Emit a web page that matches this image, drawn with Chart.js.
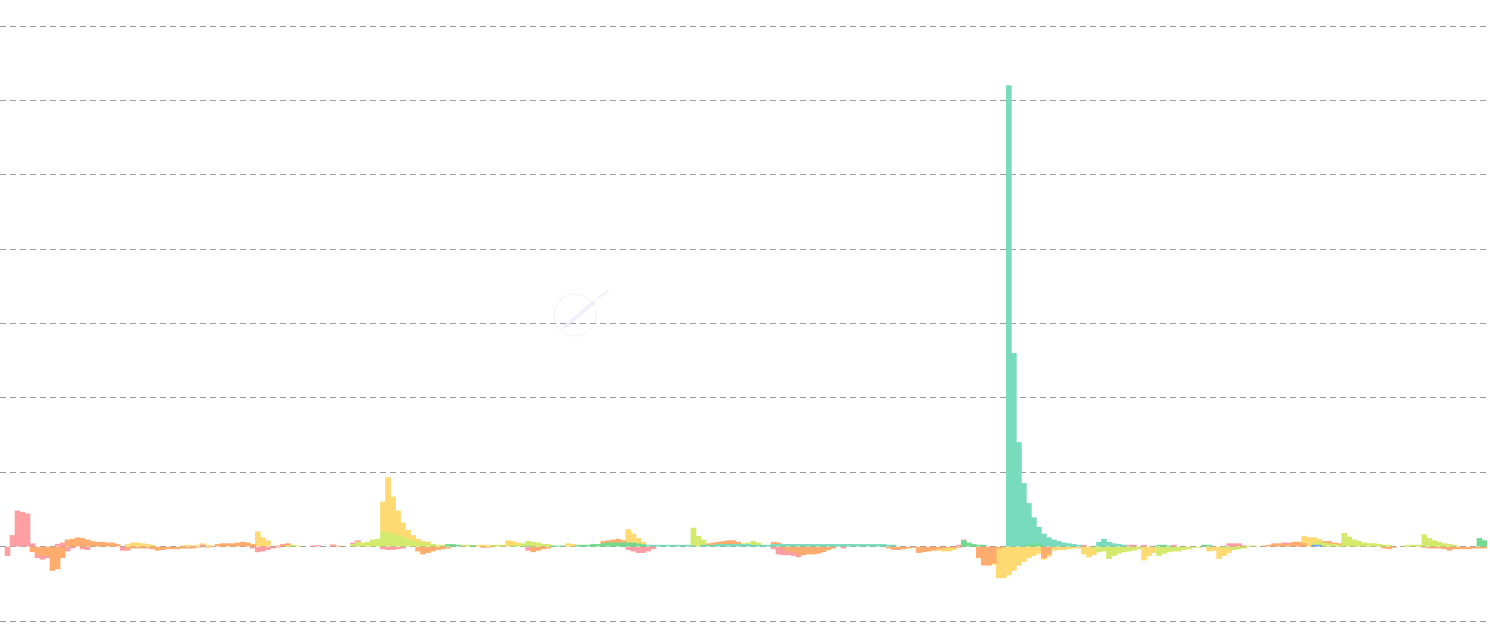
<!DOCTYPE html>
<html>
<head>
<meta charset="utf-8">
<script src="https://cdn.jsdelivr.net/npm/chart.js@4.4.1/dist/chart.umd.min.js"></script>
<style>
  html, body { margin: 0; padding: 0; background: #fff; }
  #wrap { width: 1490px; height: 633px; position: relative; }
</style>
</head>
<body>
<div id="wrap"><canvas id="chart"></canvas></div>
<script>
// one value per time slot, 297 slots
const pink = [
  0, -0.12, 0.15, 0.48, 0.46, 0.44, 0.04, -0.04, -0.05, -0.03,
  0, 0.03, 0.05, -0.06, -0.02, 0, -0.03, -0.04, 0, 0,
  0, 0, 0, 0, -0.05, -0.02, 0, 0, 0, 0,
  0, 0, 0, 0, 0, 0, 0, 0, 0, 0,
  0.02, 0, 0, 0, 0, 0, 0, 0, 0, 0,
  -0.02, -0.07, -0.06, -0.04, -0.02, -0.01, 0.01, 0, 0, 0,
  0, 0, 0.01, 0.015, 0, 0, 0.015, 0, 0, 0,
  0.02, 0.02, 0, 0, 0, 0, -0.03, -0.04, -0.04, -0.03,
  -0.02, 0, 0, 0, 0, 0, 0, 0, 0, 0,
  0, 0, 0, 0, 0, 0, 0, 0, 0, 0,
  0, 0, 0, 0, 0, -0.05, 0, 0, 0, 0,
  0, 0, 0, 0, 0, 0, 0, 0, 0, 0,
  0, 0, 0, 0, 0, -0.04, -0.06, -0.08, -0.08, -0.06,
  -0.03, 0, 0, 0, 0, 0, 0, 0, 0, 0,
  0, 0, 0, 0, 0, 0, 0, 0, 0, 0,
  0, 0, 0, 0, -0.03, -0.1, -0.08, -0.05, -0.05, -0.04,
  0, 0, 0, 0, 0, 0, 0, 0, -0.02, 0,
  0, 0, 0, 0, 0, 0, 0, 0, 0, 0,
  0, 0, 0, 0, 0, 0, 0, 0, 0, 0,
  0, 0.02, 0.01, 0, 0, 0, 0, 0, 0, 0,
  0, 0, 0, 0, 0, 0, 0, 0, 0, 0,
  0, 0, 0, 0, 0, 0, 0.02, 0, 0, 0,
  0, 0, 0, 0, 0, 0.02, 0.02, 0, 0.02, 0,
  0, 0, 0, 0, 0.02, 0, 0, 0, 0, 0,
  0, 0, 0, 0, 0, 0.04, 0.04, 0.03, 0, 0,
  0, 0, 0, 0, 0.01, 0, 0.02, 0.02, 0, 0,
  0, 0, 0, 0, 0, 0, 0, 0, 0, 0,
  0, 0, 0, 0, 0, 0, 0, 0, 0, 0,
  0, 0, 0, 0, 0, 0, 0, 0, 0, 0,
  0, 0, 0, 0, 0, 0, 0
];

const orange = [
  0, 0, 0, 0, 0, 0, -0.07, -0.11, -0.12, -0.12,
  -0.32, -0.3, -0.15, 0.09, 0.1, 0.12, 0.11, 0.09, 0.07, 0.06,
  0.06, 0.05, 0.05, 0.03, 0, -0.03, -0.02, -0.02, -0.02, -0.02,
  -0.03, -0.05, -0.04, -0.03, -0.03, -0.03, -0.02, -0.02, -0.02, -0.01,
  0, -0.01, 0, 0.03, 0.04, 0.04, 0.04, 0.05, 0.06, 0.05,
  0.03, 0, 0, 0, 0, 0.01, 0.02, 0.03, 0, 0,
  0, 0, 0, 0, 0, 0, 0.01, 0.01, 0, 0,
  0, 0, 0, 0, 0, 0, 0, 0, 0, 0,
  0, 0, 0, -0.06, -0.1, -0.08, -0.06, -0.04, -0.03, -0.02,
  0, 0, 0, 0, 0, 0, -0.01, -0.01, 0, 0,
  0, 0, 0, 0, 0, 0, -0.07, -0.05, -0.03, -0.02,
  0, 0, 0, 0, 0, 0, 0, 0, 0, 0,
  0.03, 0.03, 0.04, 0.05, 0.03, 0, 0, 0, 0, 0,
  0, 0, 0, 0, 0, 0, 0, 0, 0, 0,
  0, 0.02, 0.03, 0.03, 0.04, 0.05, 0.05, 0.03, 0, 0,
  0, 0, 0, 0, 0.03, 0.02, -0.03, -0.06, -0.07, -0.1,
  -0.11, -0.1, -0.1, -0.09, -0.07, -0.04, -0.02, 0, 0, 0,
  0, 0, 0, 0, 0, 0, 0, -0.02, -0.04, -0.04,
  -0.03, -0.02, -0.01, -0.08, -0.07, -0.06, -0.05, -0.03, -0.02, -0.01,
  -0.01, -0.01, 0, 0, 0, -0.15, -0.25, -0.25, -0.22, -0.02,
  0, 0, 0, 0, 0, 0, 0, 0, -0.15, -0.1,
  0, 0, 0, 0, 0, 0, 0, 0, 0, 0,
  0, 0, 0, 0, 0, 0, 0, 0, 0, 0,
  0, 0, 0, 0, 0, 0, 0, 0, 0, 0,
  0, 0, 0, 0, 0, 0, 0, 0.01, 0.01, 0,
  0, 0, 0.01, 0.02, 0.03, 0.04, 0.03, 0.03, 0.06, 0.06,
  0.04, 0, 0, 0, 0.02, 0.03, 0.02, 0.02, 0, 0,
  0, 0, 0, 0, 0, 0, -0.02, -0.03, -0.01, 0,
  0, 0, 0, 0, -0.01, -0.02, -0.02, -0.02, -0.03, -0.05,
  -0.03, -0.03, -0.03, -0.03, -0.02, -0.02, -0.02
];

const yellow = [
  0, 0, 0, 0, 0, 0, 0, 0, 0, 0,
  0, 0, 0, 0, 0, 0, 0, 0, 0, 0,
  0, 0, 0, 0, 0, 0.03, 0.05, 0.05, 0.04, 0.03,
  0.02, 0, 0, 0, 0, 0, 0.01, 0.02, 0.01, 0.02,
  0.02, 0.02, 0.01, 0, 0, 0, 0, 0, 0, 0,
  0, 0.2, 0.12, 0.08, 0, 0, 0, 0, 0, 0,
  0, 0, 0, 0, 0, 0, 0, 0, 0, 0,
  0, 0, 0, 0, 0, 0, 0.4, 0.74, 0.5, 0.33,
  0.19, 0.12, 0.07, 0.04, 0.02, 0.02, 0, 0, 0, 0,
  0, 0, 0, 0, 0, 0.02, 0.02, 0.02, 0, 0,
  0, 0.08, 0.05, 0.03, 0, 0, 0, 0, 0, 0,
  0, 0, 0, 0.04, 0.03, 0, 0, 0, 0, 0,
  0, 0, 0, 0, 0, 0.18, 0.12, 0.07, 0.03, 0,
  0, 0, 0, 0, 0, 0, 0, 0, 0, 0,
  0, 0, 0, 0, 0, 0, 0, 0, 0, 0,
  0, 0, 0, 0, 0, 0, 0, 0, 0, 0,
  0, 0, 0, 0, 0, 0, 0, 0, 0, 0,
  0, 0, 0, 0, 0, 0, 0, 0, 0, 0,
  0, 0, 0, 0, 0, 0, 0, -0.02, -0.04, -0.05,
  -0.03, 0, 0, 0, 0, 0, 0, 0, -0.02, -0.4,
  -0.42, -0.38, -0.32, -0.25, -0.2, -0.15, -0.12, -0.09, -0.02, -0.03,
  -0.05, -0.04, -0.04, -0.03, -0.02, -0.02, -0.1, -0.14, -0.08, 0,
  0, 0, 0, 0, 0, 0, 0, 0, -0.18, -0.12,
  -0.08, 0, 0, 0, 0, 0, 0, 0, 0, 0,
  0, -0.06, -0.05, -0.16, -0.1, -0.06, 0, 0, 0, 0,
  0, 0, 0, 0, 0, 0, 0, 0, 0, 0,
  0.1, 0.12, 0.08, 0.03, 0, 0, 0, 0, 0, 0,
  0, 0, 0, 0, 0, 0, 0, 0, 0, 0,
  0, 0, 0, 0, 0, 0, 0, 0, 0, 0,
  0, 0, 0, 0, 0, 0, 0
];

const lime = [
  0, 0, 0, 0, 0, 0, 0, 0, 0, 0,
  0, 0, 0, 0, 0, 0, 0, 0, 0, 0,
  0, 0, 0, 0, 0, 0, 0, 0, 0, 0,
  0, 0, 0, 0, 0, 0, 0, 0, 0, 0,
  0, 0, 0, 0, 0, 0, 0, 0, 0, 0,
  0, 0, 0, 0, 0, 0, 0, 0.01, 0.02, 0.01,
  0, 0, 0, 0, 0, 0, 0, 0, 0, 0,
  0.03, 0.06, 0.05, 0.06, 0.09, 0.1, 0.2, 0.19, 0.17, 0.15,
  0.13, 0.1, 0.08, 0.06, 0.05, 0.04, 0.03, 0.02, 0.02, 0,
  0, 0, 0.02, 0.02, 0, 0, 0, 0, 0.02, 0.02,
  0.02, 0, 0.02, 0.02, 0.04, 0.06, 0.06, 0.05, 0.03, 0.03,
  0, 0, 0, 0, 0, 0, 0, 0, 0, 0,
  0, 0, 0, 0, 0, 0, 0, 0, 0, 0,
  0, 0, 0, 0, 0, 0, 0, 0, 0.24, 0.14,
  0.07, 0, 0, 0, 0, 0, 0, 0, 0.01, 0.02,
  0.05, 0.03, 0, 0, 0, 0, 0, 0, 0, 0,
  0, 0, 0, 0, 0, 0, 0, 0, 0, 0,
  0, 0, 0, 0, 0, 0, 0, 0, 0, 0,
  0, 0, 0, 0, 0, 0, 0, 0, 0, 0,
  0, 0, 0, 0, 0, 0, 0, 0, 0, 0,
  0, 0, 0, 0, 0, 0, 0, 0, 0, 0,
  0, 0, 0, 0, 0, 0, 0, 0, -0.03, -0.07,
  -0.06, -0.16, -0.12, -0.09, -0.07, -0.06, -0.05, -0.03, 0, 0,
  0, -0.12, -0.09, -0.07, -0.06, -0.06, -0.04, -0.03, -0.01, -0.01,
  0, 0, 0, 0, -0.02, -0.02, -0.04, -0.03, -0.02, 0.01,
  0.01, 0, 0, 0, 0, 0, 0, 0, 0, 0,
  0, 0, 0.02, 0.05, 0.05, 0.04, 0.03, 0.02, 0.18, 0.13,
  0.09, 0.07, 0.05, 0.04, 0.04, 0.03, 0.02, 0.02, 0, 0,
  0.01, 0.02, 0.02, 0.02, 0.16, 0.11, 0.08, 0.06, 0.04, 0.03,
  0.02, 0, 0, 0, 0, 0, 0
];

const green = [
  0, 0, 0, 0, 0, 0, 0, 0, 0, 0,
  0, 0, 0, 0, 0, 0, 0, 0, 0, 0,
  0, 0, 0, 0, 0, 0, 0, 0, 0, 0,
  0, 0, 0, 0, 0, 0, 0, 0, 0, 0,
  0, 0, 0, 0, 0, 0, 0, 0, 0, 0,
  0, 0, 0, 0, 0, 0, 0, 0, 0, 0,
  0, 0, 0, 0, 0, 0, 0, 0, 0, 0,
  0, 0, 0, 0, 0, 0, 0, 0, 0, 0,
  0, 0, 0, 0, 0, 0, 0, 0, 0, 0.03,
  0.03, 0.02, 0, 0, 0.015, 0, 0, 0, 0, 0,
  0, 0, 0, 0, 0, 0.01, 0, 0, 0, 0,
  0.01, 0.01, 0.01, 0, 0, 0.02, 0.02, 0.02, 0.03, 0.03,
  0.04, 0.05, 0.05, 0.05, 0.05, 0.05, 0.05, 0.04, 0.03, 0,
  0, 0, 0, 0, 0, 0, 0, 0, 0, 0,
  0, 0, 0, 0, 0, 0, 0, 0, 0, 0,
  0, 0, 0, 0, 0, 0, 0, 0, 0, 0,
  0, 0, 0, 0, 0, 0, 0, 0, 0, 0,
  0, 0, 0, 0, 0, 0, 0, 0, 0, 0,
  0, 0, 0, 0, 0, 0, 0, 0, 0, 0,
  0, 0, 0.08, 0.05, 0.03, 0.02, 0.02, 0, 0, 0,
  0, 0, 0, 0, 0, 0.03, 0.04, 0.03, 0, 0,
  0, 0, 0, 0, 0, 0, 0, 0, 0, 0,
  0, 0, 0, 0, 0, 0, 0, 0, 0, 0,
  0, 0.02, 0.02, 0.01, 0, 0, 0, 0, 0, 0,
  0.02, 0.02, 0, 0, 0, 0, 0, 0, 0, 0,
  0, 0, 0, 0, 0, 0, 0, 0, 0, 0,
  0, 0, 0, 0, 0, 0, 0, 0, 0, 0,
  0, 0, 0, 0, 0, 0, 0, 0, 0, 0,
  0, 0, 0, 0, 0, 0, 0, 0, 0, 0,
  0, 0, 0, 0, 0, 0.11, 0.08
];

const teal = [
  0, 0, 0, 0, 0, 0, 0, 0, 0, 0,
  0, 0, 0, 0, 0, 0, 0, 0, 0, 0,
  0, 0, 0, 0, 0, 0, 0, 0, 0, 0,
  0, 0, 0, 0, 0, 0, 0, 0, 0, 0,
  0, 0, 0, 0, 0, 0, 0, 0, 0, 0,
  0, 0, 0, 0, 0, 0, 0, 0, 0, 0,
  0, 0, 0, 0, 0, 0, 0, 0, 0, 0,
  0, 0, 0, 0, 0, 0, 0, 0, 0, 0,
  0, 0, 0, 0, 0, 0, 0, 0, 0, 0,
  0, 0, 0, 0, 0, 0, 0, 0, 0, 0,
  0, 0, 0, 0, 0, 0, 0, 0, 0, 0,
  0, 0, 0, 0, 0, 0, 0, 0, 0, 0,
  0, 0, 0, 0, 0, 0, 0, 0, 0, 0.02,
  0.02, 0.02, 0.02, 0.02, 0.02, 0.02, 0.02, 0.02, 0.01, 0,
  0.02, 0.02, 0.02, 0.03, 0.03, 0.03, 0.03, 0.03, 0.03, 0.03,
  0.02, 0.02, 0.02, 0.02, 0.03, 0.03, 0.03, 0.03, 0.03, 0.03,
  0.03, 0.03, 0.03, 0.03, 0.03, 0.03, 0.03, 0.03, 0.03, 0.03,
  0.03, 0.03, 0.03, 0.03, 0.03, 0.03, 0.03, 0.02, 0.02, 0,
  0, 0, 0, 0, 0, 0, 0, 0, 0, 0,
  0, 0, 0, 0, 0, 0, 0, 0, 0, 0,
  0, 6.2, 2.6, 1.4, 0.85, 0.55, 0.35, 0.23, 0.17, 0.12,
  0.09, 0.07, 0.05, 0.04, 0.03, 0.02, 0, 0, 0, 0.06,
  0.1, 0.06, 0.04, 0.03, 0.02, 0, 0, 0, 0, 0,
  0, 0, 0, 0, 0, 0, 0, 0, 0, 0,
  0, 0, 0, 0, 0, 0, 0, 0, 0, 0,
  0, 0, 0, 0, 0, 0, 0, 0, 0, 0,
  0, 0, 0, 0, 0, 0, 0, 0, 0, 0,
  0, 0, 0, 0, 0, 0, 0, 0, 0, 0,
  0, 0, 0, 0, 0, 0, 0, 0, 0, 0,
  0, 0, 0, 0, 0, 0, 0
];

const blue = [
  0, 0, 0, 0, 0, 0, 0, 0, 0, 0,
  0, 0, 0, 0, 0, 0, 0, 0, 0, 0,
  0, 0, 0, 0, 0, 0, 0, 0, 0, 0,
  0, 0, 0, 0, 0, 0, 0, 0, 0, 0,
  0, 0, 0, 0, 0, 0, 0, 0, 0, 0,
  0, 0, 0, 0, 0, 0, 0, 0, 0, 0,
  0, 0, 0, 0, 0, 0, 0, 0, 0, 0,
  0, 0, 0, 0, 0, 0, 0, 0, 0, 0,
  0, 0, 0, 0, 0, 0, 0, 0, 0, 0,
  0, 0, 0, 0, 0, 0, 0, 0, 0, 0,
  0, 0, 0, 0, 0, 0, 0, 0, 0, 0,
  0, 0, 0, 0, 0, 0, 0, 0, 0, 0,
  0, 0, 0, 0, 0, 0, 0, 0, 0, 0,
  0, 0, 0, 0, 0, 0, 0, 0, 0, 0,
  0, 0, 0, 0, 0, 0, 0, 0, 0, 0,
  0, 0, 0, 0, 0, 0, 0, 0, 0, 0,
  0, 0, 0, 0, 0, 0, 0, 0, 0, 0,
  0, 0, 0, 0, 0, 0, 0, 0, 0, 0,
  0, 0, 0, 0, 0, 0, 0, 0, 0, 0,
  0, 0, 0, 0, 0, 0, 0, 0, 0, 0,
  0, 0, 0, 0, 0, 0, 0, 0, 0, 0,
  0, 0, 0, 0, 0, 0, 0, 0, 0, 0,
  0, 0, 0, 0, 0, 0, 0, 0, 0, 0,
  0, 0, 0, 0, 0, 0, 0, 0, 0, 0,
  0, 0, 0, 0, 0, 0, 0, 0, 0, 0,
  0, 0, 0, 0, 0, 0, 0, 0, 0, 0,
  0, 0, 0.02, 0.02, 0, 0, 0, 0, 0, 0,
  0, 0, 0, 0, 0, 0, 0, 0, 0, 0,
  0, 0, 0, 0, 0, 0, 0, 0, 0, 0,
  0, 0, 0, 0, 0, 0, 0
];

// slot labels (axis is hidden)
const labels = pink.map((v, i) => String(i + 1));

// y gridlines at every whole step from -1 to 7
const yMin = -1;
const yMax = 7;

// faint logo in the middle, like the original's watermark
const watermark = {
  id: 'watermark',
  beforeDatasetsDraw(chart) {
    const c = chart.ctx;
    c.save();
    c.strokeStyle = 'rgba(205,205,225,0.25)';
    c.lineWidth = 1;
    c.beginPath();
    c.arc(575, 315, 21, 0, Math.PI * 2);
    c.stroke();
    c.strokeStyle = 'rgba(215,210,245,0.35)';
    c.lineWidth = 4;
    c.lineCap = 'round';
    c.beginPath();
    c.moveTo(566, 326);
    c.lineTo(594, 302);
    c.stroke();
    c.lineWidth = 2;
    c.beginPath();
    c.moveTo(598, 298);
    c.lineTo(608, 291);
    c.stroke();
    c.restore();
  }
};

function ds(label, values, color) {
  return {
    label: label,
    // empty slots get no bar at all
    data: values.map(v => (v === 0 ? null : v)),
    backgroundColor: color,
    borderWidth: 0,
    barPercentage: 1,
    categoryPercentage: 1,
    stack: 's'
  };
}

const canvas = document.getElementById('chart');
new Chart(canvas.getContext('2d'), {
  type: 'bar',
  data: {
    labels: labels,
    datasets: [
      ds('blue', blue, '#6aa6ee'),
      ds('green', green, '#72dc8e'),
      ds('teal', teal, '#78dbbc'),
      ds('lime', lime, '#d3ea6c'),
      ds('orange', orange, '#ffac6e'),
      ds('pink', pink, '#ff9fa3'),
      ds('yellow', yellow, '#ffda72')
    ]
  },
  options: {
    responsive: true,
    maintainAspectRatio: false,
    animation: false,
    layout: { padding: { top: 26, bottom: 12, left: 0, right: 3 } },
    scales: {
      x: {
        display: false,
        stacked: true
      },
      y: {
        stacked: true,
        min: yMin,
        max: yMax,
        ticks: { display: false, stepSize: 1 },
        grid: {
          color: '#9c9c9c',
          lineWidth: 1,
          drawTicks: false,
          tickLength: 0
        },
        border: { display: false, dash: [6, 4] }
      }
    },
    plugins: {
      legend: { display: false },
      tooltip: { enabled: false }
    }
  },
  plugins: [watermark]
});
</script>
</body>
</html>
